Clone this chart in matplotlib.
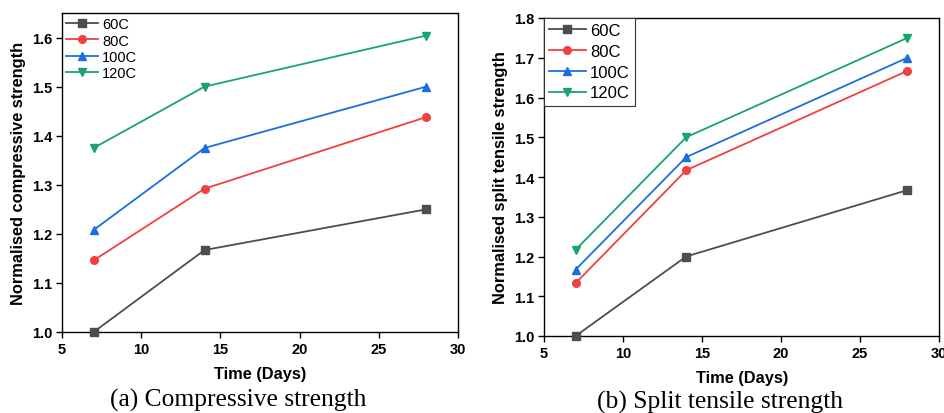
import matplotlib
matplotlib.use("Agg")
import matplotlib.pyplot as plt

days = [7, 14, 28]
labels = ["60C", "80C", "100C", "120C"]
comp = {
    "60C": [1.0, 1.167, 1.25],
    "80C": [1.146, 1.292, 1.438],
    "100C": [1.208, 1.375, 1.5],
    "120C": [1.375, 1.5, 1.604],
}
split = {
    "60C": [1.0, 1.2, 1.367],
    "80C": [1.133, 1.417, 1.667],
    "100C": [1.167, 1.45, 1.7],
    "120C": [1.217, 1.5, 1.75],
}
colors = ["#4d4d4d", "#F14040", "#1A6FDF", "#1AA36B"]
markers = ["s", "o", "^", "v"]

plt.rcParams['font.family'] = ['Liberation Sans', 'DejaVu Sans']

fig = plt.figure(figsize=(9.45, 4.14), dpi=100)
ax1 = fig.add_axes([62/945, 81/414, 396/945, 319/414])
ax2 = fig.add_axes([544/945, 77/414, 395/945, 318/414])

def style(ax, data, ylim, yticks, ylabel, frame, legsize, spacing):
    for lab, c, m in zip(labels, colors, markers):
        ax.plot(days, data[lab], color=c, marker=m, markersize=5.5, lw=1.3, label=lab, clip_on=False, zorder=3)
    ax.set_xlim(5, 30)
    ax.set_ylim(*ylim)
    ax.set_xticks([5, 10, 15, 20, 25, 30])
    ax.set_yticks(yticks)
    ax.set_yticklabels([f"{v:.1f}" for v in yticks])
    for t in ax.get_xticklabels() + ax.get_yticklabels():
        t.set_fontweight('bold')
        t.set_fontsize(10.5)
    ax.tick_params(direction='out', length=4, width=1, pad=3)
    for s in ax.spines.values():
        s.set_linewidth(1.0)
    ax.set_ylabel(ylabel, fontsize=11.8, fontweight='bold', labelpad=4)
    leg = ax.legend(loc='upper left', fontsize=legsize, frameon=frame, fancybox=False,
                    borderaxespad=0.0, handlelength=2.2, labelspacing=spacing,
                    borderpad=0.3, handletextpad=0.25)
    if frame:
        leg.get_frame().set_edgecolor('#333333')
        leg.get_frame().set_linewidth(0.8)
        leg.get_frame().set_alpha(1)

style(ax1, comp, (1.0, 1.65), [1.0, 1.1, 1.2, 1.3, 1.4, 1.5, 1.6], "Normalised compressive strength", False, 10.5, 0.15)
style(ax2, split, (1.0, 1.8), [1.0, 1.1, 1.2, 1.3, 1.4, 1.5, 1.6, 1.7, 1.8], "Normalised split tensile strength", True, 12, 0.35)

fig.text(260/945, 1 - 375/414, "Time (Days)", ha='center', va='center', fontsize=11.8, fontweight='bold')
fig.text(742/945, 1 - 379/414, "Time (Days)", ha='center', va='center', fontsize=11.8, fontweight='bold')
fig.text(238/945, 1 - 400/414, "(a) Compressive strength", ha='center', va='center', fontsize=18.4, family='Liberation Serif')
fig.text(720/945, 1 - 402/414, "(b) Split tensile strength", ha='center', va='center', fontsize=18.4, family='Liberation Serif')

fig.savefig("out.png", dpi=100)
